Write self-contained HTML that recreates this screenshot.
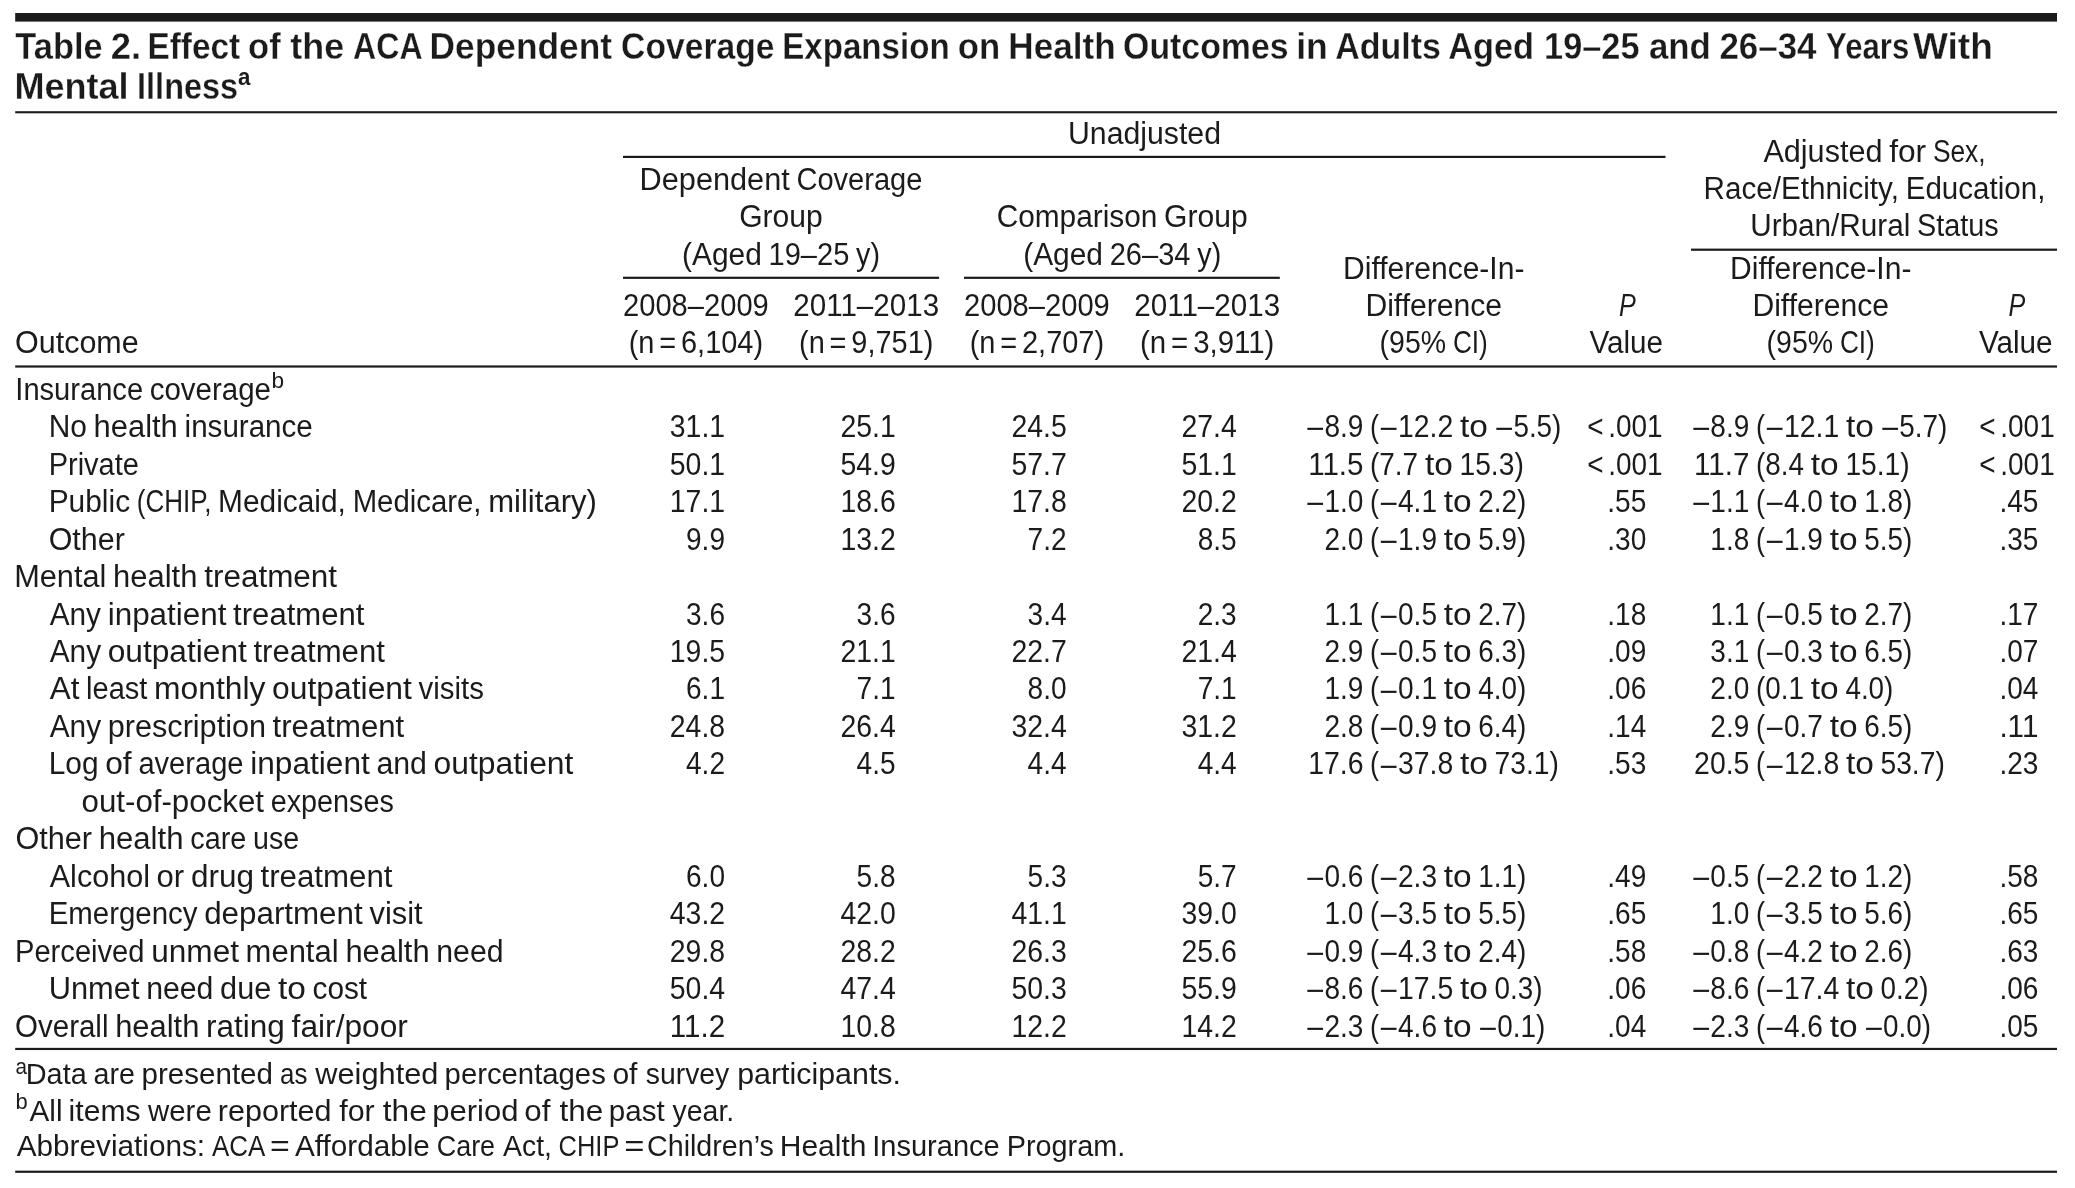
<!DOCTYPE html>
<html lang="en">
<head>
<meta charset="utf-8">
<title>Table 2. Effect of the ACA Dependent Coverage Expansion on Health Outcomes</title>
<style>
html,body{margin:0;padding:0;background:#fff;}
body{width:2075px;height:1188px;overflow:hidden;}
svg{display:block;will-change:transform;filter:grayscale(1);font-family:"Liberation Sans",sans-serif;font-size:31px;fill:#1c1b19;}
svg text{white-space:pre;}
.rules rect{fill:#1c1b19;}
.title text{font-weight:bold;stroke:#fff;stroke-width:0.28px;}
.title text.sup{stroke:none;}
.it{font-style:italic;}
</style>
</head>
<body>
<svg width="2075" height="1188" viewBox="0 0 2075 1188">
<g class="rules">
<rect x="15.2" y="13.0" width="2041.8" height="8.6"/>
<rect x="15.2" y="111.20" width="2041.8" height="2.1"/>
<rect x="623.0" y="155.80" width="1042.5" height="2.2"/>
<rect x="623.0" y="276.70" width="316.1" height="2.2"/>
<rect x="964.0" y="276.70" width="315.8" height="2.2"/>
<rect x="1691.0" y="248.60" width="366.0" height="2.2"/>
<rect x="15.2" y="365.40" width="2041.8" height="2.2"/>
<rect x="15.2" y="1047.85" width="2041.8" height="2.2"/>
<rect x="15.2" y="1170.65" width="2041.8" height="2.2"/>
</g>
<g class="title">
<text y="59.4" font-size="36.5"><tspan x="15.3" textLength="87.3" lengthAdjust="spacingAndGlyphs">Table</tspan> <tspan x="110.7" textLength="30.4" lengthAdjust="spacingAndGlyphs">2.</tspan> <tspan x="147.4" textLength="92.8" lengthAdjust="spacingAndGlyphs">Effect</tspan> <tspan x="248.1" textLength="32.6" lengthAdjust="spacingAndGlyphs">of</tspan> <tspan x="290.3" textLength="53.9" lengthAdjust="spacingAndGlyphs">the</tspan> <tspan x="353.1" textLength="68.3" lengthAdjust="spacingAndGlyphs">ACA</tspan> <tspan x="429.6" textLength="182.5" lengthAdjust="spacingAndGlyphs">Dependent</tspan> <tspan x="621.1" textLength="153.4" lengthAdjust="spacingAndGlyphs">Coverage</tspan> <tspan x="782.3" textLength="167.3" lengthAdjust="spacingAndGlyphs">Expansion</tspan> <tspan x="957.8" textLength="42.4" lengthAdjust="spacingAndGlyphs">on</tspan> <tspan x="1008.3" textLength="107.3" lengthAdjust="spacingAndGlyphs">Health</tspan> <tspan x="1123.1" textLength="165.5" lengthAdjust="spacingAndGlyphs">Outcomes</tspan> <tspan x="1296.2" textLength="31.6" lengthAdjust="spacingAndGlyphs">in</tspan> <tspan x="1335.3" textLength="105.7" lengthAdjust="spacingAndGlyphs">Adults</tspan> <tspan x="1448.2" textLength="85.8" lengthAdjust="spacingAndGlyphs">Aged</tspan> <tspan x="1544.1" textLength="95.4" lengthAdjust="spacingAndGlyphs">19–25</tspan> <tspan x="1648.9" textLength="61.9" lengthAdjust="spacingAndGlyphs">and</tspan> <tspan x="1719.4" textLength="97.1" lengthAdjust="spacingAndGlyphs">26–34</tspan> <tspan x="1826.1" textLength="83.2" lengthAdjust="spacingAndGlyphs">Years</tspan> <tspan x="1913.0" textLength="79.8" lengthAdjust="spacingAndGlyphs">With</tspan></text>
<text y="99.0" font-size="36.5"><tspan x="14.4" textLength="114.2" lengthAdjust="spacingAndGlyphs">Mental</tspan> <tspan x="137.1" textLength="101.0" lengthAdjust="spacingAndGlyphs">Illness</tspan></text>
<text x="238.0" y="84.7" class="sup" font-size="24" textLength="12.4" lengthAdjust="spacingAndGlyphs">a</text>
</g>
<g class="head">
<text x="1068.0" y="143.6" textLength="153.0" lengthAdjust="spacingAndGlyphs">Unadjusted</text>
<text y="189.8"><tspan x="639.6" textLength="150.2" lengthAdjust="spacingAndGlyphs">Dependent</tspan> <tspan x="796.4" textLength="126.0" lengthAdjust="spacingAndGlyphs">Coverage</tspan></text>
<text x="739.2" y="227.3" textLength="83.6" lengthAdjust="spacingAndGlyphs">Group</text>
<text y="264.8"><tspan x="682.0" textLength="79.8" lengthAdjust="spacingAndGlyphs">(Aged</tspan> <tspan x="768.5" textLength="80.8" lengthAdjust="spacingAndGlyphs">19–25</tspan> <tspan x="856.1" textLength="23.9" lengthAdjust="spacingAndGlyphs">y)</tspan></text>
<text y="227.3"><tspan x="996.7" textLength="160.7" lengthAdjust="spacingAndGlyphs">Comparison</tspan> <tspan x="1164.1" textLength="83.6" lengthAdjust="spacingAndGlyphs">Group</tspan></text>
<text y="264.8"><tspan x="1023.2" textLength="79.8" lengthAdjust="spacingAndGlyphs">(Aged</tspan> <tspan x="1109.7" textLength="80.8" lengthAdjust="spacingAndGlyphs">26–34</tspan> <tspan x="1197.3" textLength="23.9" lengthAdjust="spacingAndGlyphs">y)</tspan></text>
<text x="623.0" y="315.7" textLength="145.8" lengthAdjust="spacingAndGlyphs">2008–2009</text>
<text x="628.7" y="353.3" textLength="134.4" lengthAdjust="spacingAndGlyphs">(n  =  6,104)</text>
<text x="793.3" y="315.7" textLength="145.8" lengthAdjust="spacingAndGlyphs">2011–2013</text>
<text x="799.0" y="353.3" textLength="134.4" lengthAdjust="spacingAndGlyphs">(n  =  9,751)</text>
<text x="964.0" y="315.7" textLength="145.8" lengthAdjust="spacingAndGlyphs">2008–2009</text>
<text x="969.7" y="353.3" textLength="134.4" lengthAdjust="spacingAndGlyphs">(n  =  2,707)</text>
<text x="1134.3" y="315.7" textLength="145.8" lengthAdjust="spacingAndGlyphs">2011–2013</text>
<text x="1140.0" y="353.3" textLength="134.4" lengthAdjust="spacingAndGlyphs">(n  =  3,911)</text>
<text x="15.1" y="353.3" textLength="123.6" lengthAdjust="spacingAndGlyphs">Outcome</text>
<text x="1343.1" y="278.5" textLength="181.3" lengthAdjust="spacingAndGlyphs">Difference-In-</text>
<text x="1365.4" y="315.8" textLength="136.7" lengthAdjust="spacingAndGlyphs">Difference</text>
<text y="353.3"><tspan x="1379.6" textLength="66.5" lengthAdjust="spacingAndGlyphs">(95%</tspan> <tspan x="1452.9" textLength="34.9" lengthAdjust="spacingAndGlyphs">CI)</tspan></text>
<text x="1730.1" y="278.5" textLength="181.3" lengthAdjust="spacingAndGlyphs">Difference-In-</text>
<text x="1752.4" y="315.8" textLength="136.7" lengthAdjust="spacingAndGlyphs">Difference</text>
<text y="353.3"><tspan x="1766.6" textLength="66.5" lengthAdjust="spacingAndGlyphs">(95%</tspan> <tspan x="1839.9" textLength="34.9" lengthAdjust="spacingAndGlyphs">CI)</tspan></text>
<text x="1618.9" y="315.8" class="it" textLength="16.8" lengthAdjust="spacingAndGlyphs">P</text>
<text x="1589.4" y="353.3" textLength="73.7" lengthAdjust="spacingAndGlyphs">Value</text>
<text x="2008.4" y="315.8" class="it" textLength="16.8" lengthAdjust="spacingAndGlyphs">P</text>
<text x="1978.9" y="353.3" textLength="73.7" lengthAdjust="spacingAndGlyphs">Value</text>
<text y="161.7"><tspan x="1763.4" textLength="119.1" lengthAdjust="spacingAndGlyphs">Adjusted</tspan> <tspan x="1889.2" textLength="37.0" lengthAdjust="spacingAndGlyphs">for</tspan> <tspan x="1932.9" textLength="52.7" lengthAdjust="spacingAndGlyphs">Sex,</tspan></text>
<text y="199.1"><tspan x="1703.6" textLength="195.3" lengthAdjust="spacingAndGlyphs">Race/Ethnicity,</tspan> <tspan x="1905.7" textLength="139.7" lengthAdjust="spacingAndGlyphs">Education,</tspan></text>
<text y="236.4"><tspan x="1750.2" textLength="160.1" lengthAdjust="spacingAndGlyphs">Urban/Rural</tspan> <tspan x="1917.0" textLength="81.8" lengthAdjust="spacingAndGlyphs">Status</tspan></text>
</g>
<g class="body">
<g class="row">
<text y="399.6"><tspan x="15.3" textLength="127.8" lengthAdjust="spacingAndGlyphs">Insurance</tspan> <tspan x="149.7" textLength="121.3" lengthAdjust="spacingAndGlyphs">coverage</tspan></text>
<text x="271.4" y="387.5" font-size="22.3" textLength="12.6" lengthAdjust="spacingAndGlyphs">b</text>
</g>
<g class="row">
<text y="437.1"><tspan x="48.7" textLength="38.2" lengthAdjust="spacingAndGlyphs">No</tspan> <tspan x="93.6" textLength="84.2" lengthAdjust="spacingAndGlyphs">health</tspan> <tspan x="184.6" textLength="128.2" lengthAdjust="spacingAndGlyphs">insurance</tspan></text>
<text x="669.8" y="437.1" textLength="55.3" lengthAdjust="spacingAndGlyphs">31.1</text>
<text x="840.4" y="437.1" textLength="55.3" lengthAdjust="spacingAndGlyphs">25.1</text>
<text x="1011.4" y="437.1" textLength="55.3" lengthAdjust="spacingAndGlyphs">24.5</text>
<text x="1181.5" y="437.1" textLength="55.3" lengthAdjust="spacingAndGlyphs">27.4</text>
<text y="437.1"><tspan x="1305.5" dy="2.2" textLength="18.9" lengthAdjust="spacingAndGlyphs">−</tspan><tspan x="1324.4" dy="-2.2" textLength="39.0" lengthAdjust="spacingAndGlyphs">8.9</tspan> <tspan x="1370.1" textLength="9.0" lengthAdjust="spacingAndGlyphs">(</tspan><tspan x="1379.1" dy="2.2" textLength="18.9" lengthAdjust="spacingAndGlyphs">−</tspan><tspan x="1398.0" dy="-2.2" textLength="55.3" lengthAdjust="spacingAndGlyphs">12.2</tspan> <tspan x="1460.0" textLength="27.9" lengthAdjust="spacingAndGlyphs">to</tspan> <tspan x="1494.6" dy="2.2" textLength="18.9" lengthAdjust="spacingAndGlyphs">−</tspan><tspan x="1513.4" dy="-2.2" textLength="48.0" lengthAdjust="spacingAndGlyphs">5.5)</tspan></text>
<text x="1587.2" y="437.1" textLength="75.4" lengthAdjust="spacingAndGlyphs">&lt;  .001</text>
<text y="437.1"><tspan x="1691.4" dy="2.2" textLength="18.9" lengthAdjust="spacingAndGlyphs">−</tspan><tspan x="1710.3" dy="-2.2" textLength="39.0" lengthAdjust="spacingAndGlyphs">8.9</tspan> <tspan x="1756.0" textLength="9.0" lengthAdjust="spacingAndGlyphs">(</tspan><tspan x="1765.0" dy="2.2" textLength="18.9" lengthAdjust="spacingAndGlyphs">−</tspan><tspan x="1783.9" dy="-2.2" textLength="55.3" lengthAdjust="spacingAndGlyphs">12.1</tspan> <tspan x="1845.9" textLength="27.9" lengthAdjust="spacingAndGlyphs">to</tspan> <tspan x="1880.5" dy="2.2" textLength="18.9" lengthAdjust="spacingAndGlyphs">−</tspan><tspan x="1899.3" dy="-2.2" textLength="48.0" lengthAdjust="spacingAndGlyphs">5.7)</tspan></text>
<text x="1979.3" y="437.1" textLength="75.4" lengthAdjust="spacingAndGlyphs">&lt;  .001</text>
</g>
<g class="row">
<text x="48.7" y="474.6" textLength="90.2" lengthAdjust="spacingAndGlyphs">Private</text>
<text x="669.8" y="474.6" textLength="55.3" lengthAdjust="spacingAndGlyphs">50.1</text>
<text x="840.4" y="474.6" textLength="55.3" lengthAdjust="spacingAndGlyphs">54.9</text>
<text x="1011.4" y="474.6" textLength="55.3" lengthAdjust="spacingAndGlyphs">57.7</text>
<text x="1181.5" y="474.6" textLength="55.3" lengthAdjust="spacingAndGlyphs">51.1</text>
<text y="474.6"><tspan x="1308.2" textLength="55.3" lengthAdjust="spacingAndGlyphs">11.5</tspan> <tspan x="1370.1" textLength="48.0" lengthAdjust="spacingAndGlyphs">(7.7</tspan> <tspan x="1424.9" textLength="27.9" lengthAdjust="spacingAndGlyphs">to</tspan> <tspan x="1459.5" textLength="64.3" lengthAdjust="spacingAndGlyphs">15.3)</tspan></text>
<text x="1587.2" y="474.6" textLength="75.4" lengthAdjust="spacingAndGlyphs">&lt;  .001</text>
<text y="474.6"><tspan x="1694.1" textLength="55.3" lengthAdjust="spacingAndGlyphs">11.7</tspan> <tspan x="1756.0" textLength="48.0" lengthAdjust="spacingAndGlyphs">(8.4</tspan> <tspan x="1810.8" textLength="27.9" lengthAdjust="spacingAndGlyphs">to</tspan> <tspan x="1845.4" textLength="64.3" lengthAdjust="spacingAndGlyphs">15.1)</tspan></text>
<text x="1979.3" y="474.6" textLength="75.4" lengthAdjust="spacingAndGlyphs">&lt;  .001</text>
</g>
<g class="row">
<text y="512.1"><tspan x="48.7" textLength="81.4" lengthAdjust="spacingAndGlyphs">Public</tspan> <tspan x="136.8" textLength="74.7" lengthAdjust="spacingAndGlyphs">(CHIP,</tspan> <tspan x="218.1" textLength="127.8" lengthAdjust="spacingAndGlyphs">Medicaid,</tspan> <tspan x="352.7" textLength="128.8" lengthAdjust="spacingAndGlyphs">Medicare,</tspan> <tspan x="488.2" textLength="108.7" lengthAdjust="spacingAndGlyphs">military)</tspan></text>
<text x="669.8" y="512.1" textLength="55.3" lengthAdjust="spacingAndGlyphs">17.1</text>
<text x="840.4" y="512.1" textLength="55.3" lengthAdjust="spacingAndGlyphs">18.6</text>
<text x="1011.4" y="512.1" textLength="55.3" lengthAdjust="spacingAndGlyphs">17.8</text>
<text x="1181.5" y="512.1" textLength="55.3" lengthAdjust="spacingAndGlyphs">20.2</text>
<text y="512.1"><tspan x="1305.5" dy="2.2" textLength="18.9" lengthAdjust="spacingAndGlyphs">−</tspan><tspan x="1324.4" dy="-2.2" textLength="39.0" lengthAdjust="spacingAndGlyphs">1.0</tspan> <tspan x="1370.1" textLength="9.0" lengthAdjust="spacingAndGlyphs">(</tspan><tspan x="1379.1" dy="2.2" textLength="18.9" lengthAdjust="spacingAndGlyphs">−</tspan><tspan x="1398.0" dy="-2.2" textLength="39.0" lengthAdjust="spacingAndGlyphs">4.1</tspan> <tspan x="1443.8" textLength="27.9" lengthAdjust="spacingAndGlyphs">to</tspan> <tspan x="1478.3" textLength="48.0" lengthAdjust="spacingAndGlyphs">2.2)</tspan></text>
<text x="1607.3" y="512.1" textLength="39.0" lengthAdjust="spacingAndGlyphs">.55</text>
<text y="512.1"><tspan x="1691.4" dy="2.2" textLength="18.9" lengthAdjust="spacingAndGlyphs">−</tspan><tspan x="1710.3" dy="-2.2" textLength="39.0" lengthAdjust="spacingAndGlyphs">1.1</tspan> <tspan x="1756.0" textLength="9.0" lengthAdjust="spacingAndGlyphs">(</tspan><tspan x="1765.0" dy="2.2" textLength="18.9" lengthAdjust="spacingAndGlyphs">−</tspan><tspan x="1783.9" dy="-2.2" textLength="39.0" lengthAdjust="spacingAndGlyphs">4.0</tspan> <tspan x="1829.7" textLength="27.9" lengthAdjust="spacingAndGlyphs">to</tspan> <tspan x="1864.2" textLength="48.0" lengthAdjust="spacingAndGlyphs">1.8)</tspan></text>
<text x="1999.4" y="512.1" textLength="39.0" lengthAdjust="spacingAndGlyphs">.45</text>
</g>
<g class="row">
<text x="48.7" y="549.5" textLength="76.1" lengthAdjust="spacingAndGlyphs">Other</text>
<text x="686.0" y="549.5" textLength="39.0" lengthAdjust="spacingAndGlyphs">9.9</text>
<text x="840.4" y="549.5" textLength="55.3" lengthAdjust="spacingAndGlyphs">13.2</text>
<text x="1027.6" y="549.5" textLength="39.0" lengthAdjust="spacingAndGlyphs">7.2</text>
<text x="1197.7" y="549.5" textLength="39.0" lengthAdjust="spacingAndGlyphs">8.5</text>
<text y="549.5"><tspan x="1324.4" textLength="39.0" lengthAdjust="spacingAndGlyphs">2.0</tspan> <tspan x="1370.1" textLength="9.0" lengthAdjust="spacingAndGlyphs">(</tspan><tspan x="1379.1" dy="2.2" textLength="18.9" lengthAdjust="spacingAndGlyphs">−</tspan><tspan x="1398.0" dy="-2.2" textLength="39.0" lengthAdjust="spacingAndGlyphs">1.9</tspan> <tspan x="1443.8" textLength="27.9" lengthAdjust="spacingAndGlyphs">to</tspan> <tspan x="1478.3" textLength="48.0" lengthAdjust="spacingAndGlyphs">5.9)</tspan></text>
<text x="1607.3" y="549.5" textLength="39.0" lengthAdjust="spacingAndGlyphs">.30</text>
<text y="549.5"><tspan x="1710.3" textLength="39.0" lengthAdjust="spacingAndGlyphs">1.8</tspan> <tspan x="1756.0" textLength="9.0" lengthAdjust="spacingAndGlyphs">(</tspan><tspan x="1765.0" dy="2.2" textLength="18.9" lengthAdjust="spacingAndGlyphs">−</tspan><tspan x="1783.9" dy="-2.2" textLength="39.0" lengthAdjust="spacingAndGlyphs">1.9</tspan> <tspan x="1829.7" textLength="27.9" lengthAdjust="spacingAndGlyphs">to</tspan> <tspan x="1864.2" textLength="48.0" lengthAdjust="spacingAndGlyphs">5.5)</tspan></text>
<text x="1999.4" y="549.5" textLength="39.0" lengthAdjust="spacingAndGlyphs">.35</text>
</g>
<g class="row">
<text y="587.0"><tspan x="14.2" textLength="92.2" lengthAdjust="spacingAndGlyphs">Mental</tspan> <tspan x="113.1" textLength="84.3" lengthAdjust="spacingAndGlyphs">health</tspan> <tspan x="204.2" textLength="132.9" lengthAdjust="spacingAndGlyphs">treatment</tspan></text>
</g>
<g class="row">
<text y="624.5"><tspan x="49.7" textLength="51.3" lengthAdjust="spacingAndGlyphs">Any</tspan> <tspan x="107.7" textLength="118.8" lengthAdjust="spacingAndGlyphs">inpatient</tspan> <tspan x="233.1" textLength="131.4" lengthAdjust="spacingAndGlyphs">treatment</tspan></text>
<text x="686.0" y="624.5" textLength="39.0" lengthAdjust="spacingAndGlyphs">3.6</text>
<text x="856.6" y="624.5" textLength="39.0" lengthAdjust="spacingAndGlyphs">3.6</text>
<text x="1027.6" y="624.5" textLength="39.0" lengthAdjust="spacingAndGlyphs">3.4</text>
<text x="1197.7" y="624.5" textLength="39.0" lengthAdjust="spacingAndGlyphs">2.3</text>
<text y="624.5"><tspan x="1324.4" textLength="39.0" lengthAdjust="spacingAndGlyphs">1.1</tspan> <tspan x="1370.1" textLength="9.0" lengthAdjust="spacingAndGlyphs">(</tspan><tspan x="1379.1" dy="2.2" textLength="18.9" lengthAdjust="spacingAndGlyphs">−</tspan><tspan x="1398.0" dy="-2.2" textLength="39.0" lengthAdjust="spacingAndGlyphs">0.5</tspan> <tspan x="1443.8" textLength="27.9" lengthAdjust="spacingAndGlyphs">to</tspan> <tspan x="1478.3" textLength="48.0" lengthAdjust="spacingAndGlyphs">2.7)</tspan></text>
<text x="1607.3" y="624.5" textLength="39.0" lengthAdjust="spacingAndGlyphs">.18</text>
<text y="624.5"><tspan x="1710.3" textLength="39.0" lengthAdjust="spacingAndGlyphs">1.1</tspan> <tspan x="1756.0" textLength="9.0" lengthAdjust="spacingAndGlyphs">(</tspan><tspan x="1765.0" dy="2.2" textLength="18.9" lengthAdjust="spacingAndGlyphs">−</tspan><tspan x="1783.9" dy="-2.2" textLength="39.0" lengthAdjust="spacingAndGlyphs">0.5</tspan> <tspan x="1829.7" textLength="27.9" lengthAdjust="spacingAndGlyphs">to</tspan> <tspan x="1864.2" textLength="48.0" lengthAdjust="spacingAndGlyphs">2.7)</tspan></text>
<text x="1999.4" y="624.5" textLength="39.0" lengthAdjust="spacingAndGlyphs">.17</text>
</g>
<g class="row">
<text y="661.9"><tspan x="49.7" textLength="51.4" lengthAdjust="spacingAndGlyphs">Any</tspan> <tspan x="107.7" textLength="139.1" lengthAdjust="spacingAndGlyphs">outpatient</tspan> <tspan x="253.4" textLength="131.5" lengthAdjust="spacingAndGlyphs">treatment</tspan></text>
<text x="669.8" y="661.9" textLength="55.3" lengthAdjust="spacingAndGlyphs">19.5</text>
<text x="840.4" y="661.9" textLength="55.3" lengthAdjust="spacingAndGlyphs">21.1</text>
<text x="1011.4" y="661.9" textLength="55.3" lengthAdjust="spacingAndGlyphs">22.7</text>
<text x="1181.5" y="661.9" textLength="55.3" lengthAdjust="spacingAndGlyphs">21.4</text>
<text y="661.9"><tspan x="1324.4" textLength="39.0" lengthAdjust="spacingAndGlyphs">2.9</tspan> <tspan x="1370.1" textLength="9.0" lengthAdjust="spacingAndGlyphs">(</tspan><tspan x="1379.1" dy="2.2" textLength="18.9" lengthAdjust="spacingAndGlyphs">−</tspan><tspan x="1398.0" dy="-2.2" textLength="39.0" lengthAdjust="spacingAndGlyphs">0.5</tspan> <tspan x="1443.8" textLength="27.9" lengthAdjust="spacingAndGlyphs">to</tspan> <tspan x="1478.3" textLength="48.0" lengthAdjust="spacingAndGlyphs">6.3)</tspan></text>
<text x="1607.3" y="661.9" textLength="39.0" lengthAdjust="spacingAndGlyphs">.09</text>
<text y="661.9"><tspan x="1710.3" textLength="39.0" lengthAdjust="spacingAndGlyphs">3.1</tspan> <tspan x="1756.0" textLength="9.0" lengthAdjust="spacingAndGlyphs">(</tspan><tspan x="1765.0" dy="2.2" textLength="18.9" lengthAdjust="spacingAndGlyphs">−</tspan><tspan x="1783.9" dy="-2.2" textLength="39.0" lengthAdjust="spacingAndGlyphs">0.3</tspan> <tspan x="1829.7" textLength="27.9" lengthAdjust="spacingAndGlyphs">to</tspan> <tspan x="1864.2" textLength="48.0" lengthAdjust="spacingAndGlyphs">6.5)</tspan></text>
<text x="1999.4" y="661.9" textLength="39.0" lengthAdjust="spacingAndGlyphs">.07</text>
</g>
<g class="row">
<text y="699.4"><tspan x="49.7" textLength="29.7" lengthAdjust="spacingAndGlyphs">At</tspan> <tspan x="86.1" textLength="61.3" lengthAdjust="spacingAndGlyphs">least</tspan> <tspan x="154.1" textLength="111.3" lengthAdjust="spacingAndGlyphs">monthly</tspan> <tspan x="272.1" textLength="139.8" lengthAdjust="spacingAndGlyphs">outpatient</tspan> <tspan x="418.6" textLength="65.3" lengthAdjust="spacingAndGlyphs">visits</tspan></text>
<text x="686.0" y="699.4" textLength="39.0" lengthAdjust="spacingAndGlyphs">6.1</text>
<text x="856.6" y="699.4" textLength="39.0" lengthAdjust="spacingAndGlyphs">7.1</text>
<text x="1027.6" y="699.4" textLength="39.0" lengthAdjust="spacingAndGlyphs">8.0</text>
<text x="1197.7" y="699.4" textLength="39.0" lengthAdjust="spacingAndGlyphs">7.1</text>
<text y="699.4"><tspan x="1324.4" textLength="39.0" lengthAdjust="spacingAndGlyphs">1.9</tspan> <tspan x="1370.1" textLength="9.0" lengthAdjust="spacingAndGlyphs">(</tspan><tspan x="1379.1" dy="2.2" textLength="18.9" lengthAdjust="spacingAndGlyphs">−</tspan><tspan x="1398.0" dy="-2.2" textLength="39.0" lengthAdjust="spacingAndGlyphs">0.1</tspan> <tspan x="1443.8" textLength="27.9" lengthAdjust="spacingAndGlyphs">to</tspan> <tspan x="1478.3" textLength="48.0" lengthAdjust="spacingAndGlyphs">4.0)</tspan></text>
<text x="1607.3" y="699.4" textLength="39.0" lengthAdjust="spacingAndGlyphs">.06</text>
<text y="699.4"><tspan x="1710.3" textLength="39.0" lengthAdjust="spacingAndGlyphs">2.0</tspan> <tspan x="1756.0" textLength="48.0" lengthAdjust="spacingAndGlyphs">(0.1</tspan> <tspan x="1810.8" textLength="27.9" lengthAdjust="spacingAndGlyphs">to</tspan> <tspan x="1845.4" textLength="48.0" lengthAdjust="spacingAndGlyphs">4.0)</tspan></text>
<text x="1999.4" y="699.4" textLength="39.0" lengthAdjust="spacingAndGlyphs">.04</text>
</g>
<g class="row">
<text y="736.9"><tspan x="49.7" textLength="51.4" lengthAdjust="spacingAndGlyphs">Any</tspan> <tspan x="107.8" textLength="158.2" lengthAdjust="spacingAndGlyphs">prescription</tspan> <tspan x="272.6" textLength="131.6" lengthAdjust="spacingAndGlyphs">treatment</tspan></text>
<text x="669.8" y="736.9" textLength="55.3" lengthAdjust="spacingAndGlyphs">24.8</text>
<text x="840.4" y="736.9" textLength="55.3" lengthAdjust="spacingAndGlyphs">26.4</text>
<text x="1011.4" y="736.9" textLength="55.3" lengthAdjust="spacingAndGlyphs">32.4</text>
<text x="1181.5" y="736.9" textLength="55.3" lengthAdjust="spacingAndGlyphs">31.2</text>
<text y="736.9"><tspan x="1324.4" textLength="39.0" lengthAdjust="spacingAndGlyphs">2.8</tspan> <tspan x="1370.1" textLength="9.0" lengthAdjust="spacingAndGlyphs">(</tspan><tspan x="1379.1" dy="2.2" textLength="18.9" lengthAdjust="spacingAndGlyphs">−</tspan><tspan x="1398.0" dy="-2.2" textLength="39.0" lengthAdjust="spacingAndGlyphs">0.9</tspan> <tspan x="1443.8" textLength="27.9" lengthAdjust="spacingAndGlyphs">to</tspan> <tspan x="1478.3" textLength="48.0" lengthAdjust="spacingAndGlyphs">6.4)</tspan></text>
<text x="1607.3" y="736.9" textLength="39.0" lengthAdjust="spacingAndGlyphs">.14</text>
<text y="736.9"><tspan x="1710.3" textLength="39.0" lengthAdjust="spacingAndGlyphs">2.9</tspan> <tspan x="1756.0" textLength="9.0" lengthAdjust="spacingAndGlyphs">(</tspan><tspan x="1765.0" dy="2.2" textLength="18.9" lengthAdjust="spacingAndGlyphs">−</tspan><tspan x="1783.9" dy="-2.2" textLength="39.0" lengthAdjust="spacingAndGlyphs">0.7</tspan> <tspan x="1829.7" textLength="27.9" lengthAdjust="spacingAndGlyphs">to</tspan> <tspan x="1864.2" textLength="48.0" lengthAdjust="spacingAndGlyphs">6.5)</tspan></text>
<text x="1999.4" y="736.9" textLength="39.0" lengthAdjust="spacingAndGlyphs">.11</text>
</g>
<g class="row">
<text y="774.3"><tspan x="48.7" textLength="49.8" lengthAdjust="spacingAndGlyphs">Log</tspan> <tspan x="105.2" textLength="26.5" lengthAdjust="spacingAndGlyphs">of</tspan> <tspan x="138.4" textLength="105.1" lengthAdjust="spacingAndGlyphs">average</tspan> <tspan x="250.2" textLength="119.6" lengthAdjust="spacingAndGlyphs">inpatient</tspan> <tspan x="376.4" textLength="50.5" lengthAdjust="spacingAndGlyphs">and</tspan> <tspan x="433.6" textLength="139.8" lengthAdjust="spacingAndGlyphs">outpatient</tspan></text>
<text x="686.0" y="774.3" textLength="39.0" lengthAdjust="spacingAndGlyphs">4.2</text>
<text x="856.6" y="774.3" textLength="39.0" lengthAdjust="spacingAndGlyphs">4.5</text>
<text x="1027.6" y="774.3" textLength="39.0" lengthAdjust="spacingAndGlyphs">4.4</text>
<text x="1197.7" y="774.3" textLength="39.0" lengthAdjust="spacingAndGlyphs">4.4</text>
<text y="774.3"><tspan x="1308.2" textLength="55.3" lengthAdjust="spacingAndGlyphs">17.6</tspan> <tspan x="1370.1" textLength="9.0" lengthAdjust="spacingAndGlyphs">(</tspan><tspan x="1379.1" dy="2.2" textLength="18.9" lengthAdjust="spacingAndGlyphs">−</tspan><tspan x="1398.0" dy="-2.2" textLength="55.3" lengthAdjust="spacingAndGlyphs">37.8</tspan> <tspan x="1460.0" textLength="27.9" lengthAdjust="spacingAndGlyphs">to</tspan> <tspan x="1494.6" textLength="64.3" lengthAdjust="spacingAndGlyphs">73.1)</tspan></text>
<text x="1607.3" y="774.3" textLength="39.0" lengthAdjust="spacingAndGlyphs">.53</text>
<text y="774.3"><tspan x="1694.1" textLength="55.3" lengthAdjust="spacingAndGlyphs">20.5</tspan> <tspan x="1756.0" textLength="9.0" lengthAdjust="spacingAndGlyphs">(</tspan><tspan x="1765.0" dy="2.2" textLength="18.9" lengthAdjust="spacingAndGlyphs">−</tspan><tspan x="1783.9" dy="-2.2" textLength="55.3" lengthAdjust="spacingAndGlyphs">12.8</tspan> <tspan x="1845.9" textLength="27.9" lengthAdjust="spacingAndGlyphs">to</tspan> <tspan x="1880.5" textLength="64.3" lengthAdjust="spacingAndGlyphs">53.7)</tspan></text>
<text x="1999.4" y="774.3" textLength="39.0" lengthAdjust="spacingAndGlyphs">.23</text>
</g>
<g class="row">
<text y="811.8"><tspan x="81.5" textLength="182.5" lengthAdjust="spacingAndGlyphs">out-of-pocket</tspan> <tspan x="270.7" textLength="123.1" lengthAdjust="spacingAndGlyphs">expenses</tspan></text>
</g>
<g class="row">
<text y="849.3"><tspan x="15.4" textLength="76.6" lengthAdjust="spacingAndGlyphs">Other</tspan> <tspan x="98.7" textLength="84.8" lengthAdjust="spacingAndGlyphs">health</tspan> <tspan x="190.3" textLength="56.0" lengthAdjust="spacingAndGlyphs">care</tspan> <tspan x="253.1" textLength="46.2" lengthAdjust="spacingAndGlyphs">use</tspan></text>
</g>
<g class="row">
<text y="886.8"><tspan x="49.7" textLength="100.3" lengthAdjust="spacingAndGlyphs">Alcohol</tspan> <tspan x="156.6" textLength="27.6" lengthAdjust="spacingAndGlyphs">or</tspan> <tspan x="190.9" textLength="63.0" lengthAdjust="spacingAndGlyphs">drug</tspan> <tspan x="260.5" textLength="132.0" lengthAdjust="spacingAndGlyphs">treatment</tspan></text>
<text x="686.0" y="886.8" textLength="39.0" lengthAdjust="spacingAndGlyphs">6.0</text>
<text x="856.6" y="886.8" textLength="39.0" lengthAdjust="spacingAndGlyphs">5.8</text>
<text x="1027.6" y="886.8" textLength="39.0" lengthAdjust="spacingAndGlyphs">5.3</text>
<text x="1197.7" y="886.8" textLength="39.0" lengthAdjust="spacingAndGlyphs">5.7</text>
<text y="886.8"><tspan x="1305.5" dy="2.2" textLength="18.9" lengthAdjust="spacingAndGlyphs">−</tspan><tspan x="1324.4" dy="-2.2" textLength="39.0" lengthAdjust="spacingAndGlyphs">0.6</tspan> <tspan x="1370.1" textLength="9.0" lengthAdjust="spacingAndGlyphs">(</tspan><tspan x="1379.1" dy="2.2" textLength="18.9" lengthAdjust="spacingAndGlyphs">−</tspan><tspan x="1398.0" dy="-2.2" textLength="39.0" lengthAdjust="spacingAndGlyphs">2.3</tspan> <tspan x="1443.8" textLength="27.9" lengthAdjust="spacingAndGlyphs">to</tspan> <tspan x="1478.3" textLength="48.0" lengthAdjust="spacingAndGlyphs">1.1)</tspan></text>
<text x="1607.3" y="886.8" textLength="39.0" lengthAdjust="spacingAndGlyphs">.49</text>
<text y="886.8"><tspan x="1691.4" dy="2.2" textLength="18.9" lengthAdjust="spacingAndGlyphs">−</tspan><tspan x="1710.3" dy="-2.2" textLength="39.0" lengthAdjust="spacingAndGlyphs">0.5</tspan> <tspan x="1756.0" textLength="9.0" lengthAdjust="spacingAndGlyphs">(</tspan><tspan x="1765.0" dy="2.2" textLength="18.9" lengthAdjust="spacingAndGlyphs">−</tspan><tspan x="1783.9" dy="-2.2" textLength="39.0" lengthAdjust="spacingAndGlyphs">2.2</tspan> <tspan x="1829.7" textLength="27.9" lengthAdjust="spacingAndGlyphs">to</tspan> <tspan x="1864.2" textLength="48.0" lengthAdjust="spacingAndGlyphs">1.2)</tspan></text>
<text x="1999.4" y="886.8" textLength="39.0" lengthAdjust="spacingAndGlyphs">.58</text>
</g>
<g class="row">
<text y="924.2"><tspan x="48.7" textLength="148.8" lengthAdjust="spacingAndGlyphs">Emergency</tspan> <tspan x="204.2" textLength="158.5" lengthAdjust="spacingAndGlyphs">department</tspan> <tspan x="369.5" textLength="53.2" lengthAdjust="spacingAndGlyphs">visit</tspan></text>
<text x="669.8" y="924.2" textLength="55.3" lengthAdjust="spacingAndGlyphs">43.2</text>
<text x="840.4" y="924.2" textLength="55.3" lengthAdjust="spacingAndGlyphs">42.0</text>
<text x="1011.4" y="924.2" textLength="55.3" lengthAdjust="spacingAndGlyphs">41.1</text>
<text x="1181.5" y="924.2" textLength="55.3" lengthAdjust="spacingAndGlyphs">39.0</text>
<text y="924.2"><tspan x="1324.4" textLength="39.0" lengthAdjust="spacingAndGlyphs">1.0</tspan> <tspan x="1370.1" textLength="9.0" lengthAdjust="spacingAndGlyphs">(</tspan><tspan x="1379.1" dy="2.2" textLength="18.9" lengthAdjust="spacingAndGlyphs">−</tspan><tspan x="1398.0" dy="-2.2" textLength="39.0" lengthAdjust="spacingAndGlyphs">3.5</tspan> <tspan x="1443.8" textLength="27.9" lengthAdjust="spacingAndGlyphs">to</tspan> <tspan x="1478.3" textLength="48.0" lengthAdjust="spacingAndGlyphs">5.5)</tspan></text>
<text x="1607.3" y="924.2" textLength="39.0" lengthAdjust="spacingAndGlyphs">.65</text>
<text y="924.2"><tspan x="1710.3" textLength="39.0" lengthAdjust="spacingAndGlyphs">1.0</tspan> <tspan x="1756.0" textLength="9.0" lengthAdjust="spacingAndGlyphs">(</tspan><tspan x="1765.0" dy="2.2" textLength="18.9" lengthAdjust="spacingAndGlyphs">−</tspan><tspan x="1783.9" dy="-2.2" textLength="39.0" lengthAdjust="spacingAndGlyphs">3.5</tspan> <tspan x="1829.7" textLength="27.9" lengthAdjust="spacingAndGlyphs">to</tspan> <tspan x="1864.2" textLength="48.0" lengthAdjust="spacingAndGlyphs">5.6)</tspan></text>
<text x="1999.4" y="924.2" textLength="39.0" lengthAdjust="spacingAndGlyphs">.65</text>
</g>
<g class="row">
<text y="961.7"><tspan x="15.0" textLength="129.5" lengthAdjust="spacingAndGlyphs">Perceived</tspan> <tspan x="151.2" textLength="87.8" lengthAdjust="spacingAndGlyphs">unmet</tspan> <tspan x="245.6" textLength="93.0" lengthAdjust="spacingAndGlyphs">mental</tspan> <tspan x="345.4" textLength="84.2" lengthAdjust="spacingAndGlyphs">health</tspan> <tspan x="436.3" textLength="67.2" lengthAdjust="spacingAndGlyphs">need</tspan></text>
<text x="669.8" y="961.7" textLength="55.3" lengthAdjust="spacingAndGlyphs">29.8</text>
<text x="840.4" y="961.7" textLength="55.3" lengthAdjust="spacingAndGlyphs">28.2</text>
<text x="1011.4" y="961.7" textLength="55.3" lengthAdjust="spacingAndGlyphs">26.3</text>
<text x="1181.5" y="961.7" textLength="55.3" lengthAdjust="spacingAndGlyphs">25.6</text>
<text y="961.7"><tspan x="1305.5" dy="2.2" textLength="18.9" lengthAdjust="spacingAndGlyphs">−</tspan><tspan x="1324.4" dy="-2.2" textLength="39.0" lengthAdjust="spacingAndGlyphs">0.9</tspan> <tspan x="1370.1" textLength="9.0" lengthAdjust="spacingAndGlyphs">(</tspan><tspan x="1379.1" dy="2.2" textLength="18.9" lengthAdjust="spacingAndGlyphs">−</tspan><tspan x="1398.0" dy="-2.2" textLength="39.0" lengthAdjust="spacingAndGlyphs">4.3</tspan> <tspan x="1443.8" textLength="27.9" lengthAdjust="spacingAndGlyphs">to</tspan> <tspan x="1478.3" textLength="48.0" lengthAdjust="spacingAndGlyphs">2.4)</tspan></text>
<text x="1607.3" y="961.7" textLength="39.0" lengthAdjust="spacingAndGlyphs">.58</text>
<text y="961.7"><tspan x="1691.4" dy="2.2" textLength="18.9" lengthAdjust="spacingAndGlyphs">−</tspan><tspan x="1710.3" dy="-2.2" textLength="39.0" lengthAdjust="spacingAndGlyphs">0.8</tspan> <tspan x="1756.0" textLength="9.0" lengthAdjust="spacingAndGlyphs">(</tspan><tspan x="1765.0" dy="2.2" textLength="18.9" lengthAdjust="spacingAndGlyphs">−</tspan><tspan x="1783.9" dy="-2.2" textLength="39.0" lengthAdjust="spacingAndGlyphs">4.2</tspan> <tspan x="1829.7" textLength="27.9" lengthAdjust="spacingAndGlyphs">to</tspan> <tspan x="1864.2" textLength="48.0" lengthAdjust="spacingAndGlyphs">2.6)</tspan></text>
<text x="1999.4" y="961.7" textLength="39.0" lengthAdjust="spacingAndGlyphs">.63</text>
</g>
<g class="row">
<text y="999.2"><tspan x="48.7" textLength="90.8" lengthAdjust="spacingAndGlyphs">Unmet</tspan> <tspan x="146.2" textLength="67.2" lengthAdjust="spacingAndGlyphs">need</tspan> <tspan x="220.1" textLength="51.2" lengthAdjust="spacingAndGlyphs">due</tspan> <tspan x="278.0" textLength="27.9" lengthAdjust="spacingAndGlyphs">to</tspan> <tspan x="312.5" textLength="54.6" lengthAdjust="spacingAndGlyphs">cost</tspan></text>
<text x="669.8" y="999.2" textLength="55.3" lengthAdjust="spacingAndGlyphs">50.4</text>
<text x="840.4" y="999.2" textLength="55.3" lengthAdjust="spacingAndGlyphs">47.4</text>
<text x="1011.4" y="999.2" textLength="55.3" lengthAdjust="spacingAndGlyphs">50.3</text>
<text x="1181.5" y="999.2" textLength="55.3" lengthAdjust="spacingAndGlyphs">55.9</text>
<text y="999.2"><tspan x="1305.5" dy="2.2" textLength="18.9" lengthAdjust="spacingAndGlyphs">−</tspan><tspan x="1324.4" dy="-2.2" textLength="39.0" lengthAdjust="spacingAndGlyphs">8.6</tspan> <tspan x="1370.1" textLength="9.0" lengthAdjust="spacingAndGlyphs">(</tspan><tspan x="1379.1" dy="2.2" textLength="18.9" lengthAdjust="spacingAndGlyphs">−</tspan><tspan x="1398.0" dy="-2.2" textLength="55.3" lengthAdjust="spacingAndGlyphs">17.5</tspan> <tspan x="1460.0" textLength="27.9" lengthAdjust="spacingAndGlyphs">to</tspan> <tspan x="1494.6" textLength="48.0" lengthAdjust="spacingAndGlyphs">0.3)</tspan></text>
<text x="1607.3" y="999.2" textLength="39.0" lengthAdjust="spacingAndGlyphs">.06</text>
<text y="999.2"><tspan x="1691.4" dy="2.2" textLength="18.9" lengthAdjust="spacingAndGlyphs">−</tspan><tspan x="1710.3" dy="-2.2" textLength="39.0" lengthAdjust="spacingAndGlyphs">8.6</tspan> <tspan x="1756.0" textLength="9.0" lengthAdjust="spacingAndGlyphs">(</tspan><tspan x="1765.0" dy="2.2" textLength="18.9" lengthAdjust="spacingAndGlyphs">−</tspan><tspan x="1783.9" dy="-2.2" textLength="55.3" lengthAdjust="spacingAndGlyphs">17.4</tspan> <tspan x="1845.9" textLength="27.9" lengthAdjust="spacingAndGlyphs">to</tspan> <tspan x="1880.5" textLength="48.0" lengthAdjust="spacingAndGlyphs">0.2)</tspan></text>
<text x="1999.4" y="999.2" textLength="39.0" lengthAdjust="spacingAndGlyphs">.06</text>
</g>
<g class="row">
<text y="1036.6"><tspan x="15.0" textLength="93.5" lengthAdjust="spacingAndGlyphs">Overall</tspan> <tspan x="115.2" textLength="84.2" lengthAdjust="spacingAndGlyphs">health</tspan> <tspan x="206.1" textLength="78.8" lengthAdjust="spacingAndGlyphs">rating</tspan> <tspan x="291.6" textLength="116.3" lengthAdjust="spacingAndGlyphs">fair/poor</tspan></text>
<text x="669.8" y="1036.6" textLength="55.3" lengthAdjust="spacingAndGlyphs">11.2</text>
<text x="840.4" y="1036.6" textLength="55.3" lengthAdjust="spacingAndGlyphs">10.8</text>
<text x="1011.4" y="1036.6" textLength="55.3" lengthAdjust="spacingAndGlyphs">12.2</text>
<text x="1181.5" y="1036.6" textLength="55.3" lengthAdjust="spacingAndGlyphs">14.2</text>
<text y="1036.6"><tspan x="1305.5" dy="2.2" textLength="18.9" lengthAdjust="spacingAndGlyphs">−</tspan><tspan x="1324.4" dy="-2.2" textLength="39.0" lengthAdjust="spacingAndGlyphs">2.3</tspan> <tspan x="1370.1" textLength="9.0" lengthAdjust="spacingAndGlyphs">(</tspan><tspan x="1379.1" dy="2.2" textLength="18.9" lengthAdjust="spacingAndGlyphs">−</tspan><tspan x="1398.0" dy="-2.2" textLength="39.0" lengthAdjust="spacingAndGlyphs">4.6</tspan> <tspan x="1443.8" textLength="27.9" lengthAdjust="spacingAndGlyphs">to</tspan> <tspan x="1478.3" dy="2.2" textLength="18.9" lengthAdjust="spacingAndGlyphs">−</tspan><tspan x="1497.2" dy="-2.2" textLength="48.0" lengthAdjust="spacingAndGlyphs">0.1)</tspan></text>
<text x="1607.3" y="1036.6" textLength="39.0" lengthAdjust="spacingAndGlyphs">.04</text>
<text y="1036.6"><tspan x="1691.4" dy="2.2" textLength="18.9" lengthAdjust="spacingAndGlyphs">−</tspan><tspan x="1710.3" dy="-2.2" textLength="39.0" lengthAdjust="spacingAndGlyphs">2.3</tspan> <tspan x="1756.0" textLength="9.0" lengthAdjust="spacingAndGlyphs">(</tspan><tspan x="1765.0" dy="2.2" textLength="18.9" lengthAdjust="spacingAndGlyphs">−</tspan><tspan x="1783.9" dy="-2.2" textLength="39.0" lengthAdjust="spacingAndGlyphs">4.6</tspan> <tspan x="1829.7" textLength="27.9" lengthAdjust="spacingAndGlyphs">to</tspan> <tspan x="1864.2" dy="2.2" textLength="18.9" lengthAdjust="spacingAndGlyphs">−</tspan><tspan x="1883.1" dy="-2.2" textLength="48.0" lengthAdjust="spacingAndGlyphs">0.0)</tspan></text>
<text x="1999.4" y="1036.6" textLength="39.0" lengthAdjust="spacingAndGlyphs">.05</text>
</g>
</g>
<g class="foot">
<text x="15.5" y="1073.6" font-size="21.5" textLength="11.5" lengthAdjust="spacingAndGlyphs">a</text>
<text y="1084.0" font-size="30"><tspan x="25.8" textLength="60.9" lengthAdjust="spacingAndGlyphs">Data</tspan> <tspan x="93.6" textLength="41.4" lengthAdjust="spacingAndGlyphs">are</tspan> <tspan x="141.5" textLength="131.5" lengthAdjust="spacingAndGlyphs">presented</tspan> <tspan x="280.0" textLength="27.4" lengthAdjust="spacingAndGlyphs">as</tspan> <tspan x="315.3" textLength="123.1" lengthAdjust="spacingAndGlyphs">weighted</tspan> <tspan x="444.6" textLength="161.2" lengthAdjust="spacingAndGlyphs">percentages</tspan> <tspan x="612.4" textLength="25.1" lengthAdjust="spacingAndGlyphs">of</tspan> <tspan x="645.8" textLength="83.5" lengthAdjust="spacingAndGlyphs">survey</tspan> <tspan x="737.2" textLength="163.8" lengthAdjust="spacingAndGlyphs">participants.</tspan></text>
<text x="15.5" y="1108.6" font-size="21.5" textLength="12.2" lengthAdjust="spacingAndGlyphs">b</text>
<text y="1120.6" font-size="30"><tspan x="29.5" textLength="33.0" lengthAdjust="spacingAndGlyphs">All</tspan> <tspan x="68.6" textLength="72.0" lengthAdjust="spacingAndGlyphs">items</tspan> <tspan x="148.0" textLength="63.8" lengthAdjust="spacingAndGlyphs">were</tspan> <tspan x="217.8" textLength="113.8" lengthAdjust="spacingAndGlyphs">reported</tspan> <tspan x="339.2" textLength="35.5" lengthAdjust="spacingAndGlyphs">for</tspan> <tspan x="382.8" textLength="44.0" lengthAdjust="spacingAndGlyphs">the</tspan> <tspan x="432.2" textLength="86.4" lengthAdjust="spacingAndGlyphs">period</tspan> <tspan x="524.3" textLength="26.1" lengthAdjust="spacingAndGlyphs">of</tspan> <tspan x="559.4" textLength="43.8" lengthAdjust="spacingAndGlyphs">the</tspan> <tspan x="608.8" textLength="55.9" lengthAdjust="spacingAndGlyphs">past</tspan> <tspan x="672.5" textLength="61.7" lengthAdjust="spacingAndGlyphs">year.</tspan></text>
<text y="1155.7" font-size="30"><tspan x="16.7" textLength="188.4" lengthAdjust="spacingAndGlyphs">Abbreviations:</tspan> <tspan x="211.9" textLength="53.3" lengthAdjust="spacingAndGlyphs">ACA</tspan>  <tspan x="270.1" textLength="19.8" lengthAdjust="spacingAndGlyphs">=</tspan>  <tspan x="294.9" textLength="135.0" lengthAdjust="spacingAndGlyphs">Affordable</tspan> <tspan x="436.7" textLength="58.4" lengthAdjust="spacingAndGlyphs">Care</tspan> <tspan x="503.1" textLength="48.8" lengthAdjust="spacingAndGlyphs">Act,</tspan> <tspan x="558.6" textLength="60.8" lengthAdjust="spacingAndGlyphs">CHIP</tspan>  <tspan x="624.2" textLength="20.2" lengthAdjust="spacingAndGlyphs">=</tspan>  <tspan x="647.0" textLength="126.9" lengthAdjust="spacingAndGlyphs">Children’s</tspan> <tspan x="779.8" textLength="86.6" lengthAdjust="spacingAndGlyphs">Health</tspan> <tspan x="872.2" textLength="127.5" lengthAdjust="spacingAndGlyphs">Insurance</tspan> <tspan x="1006.7" textLength="118.6" lengthAdjust="spacingAndGlyphs">Program.</tspan></text>
</g>
</svg>
</body>
</html>
